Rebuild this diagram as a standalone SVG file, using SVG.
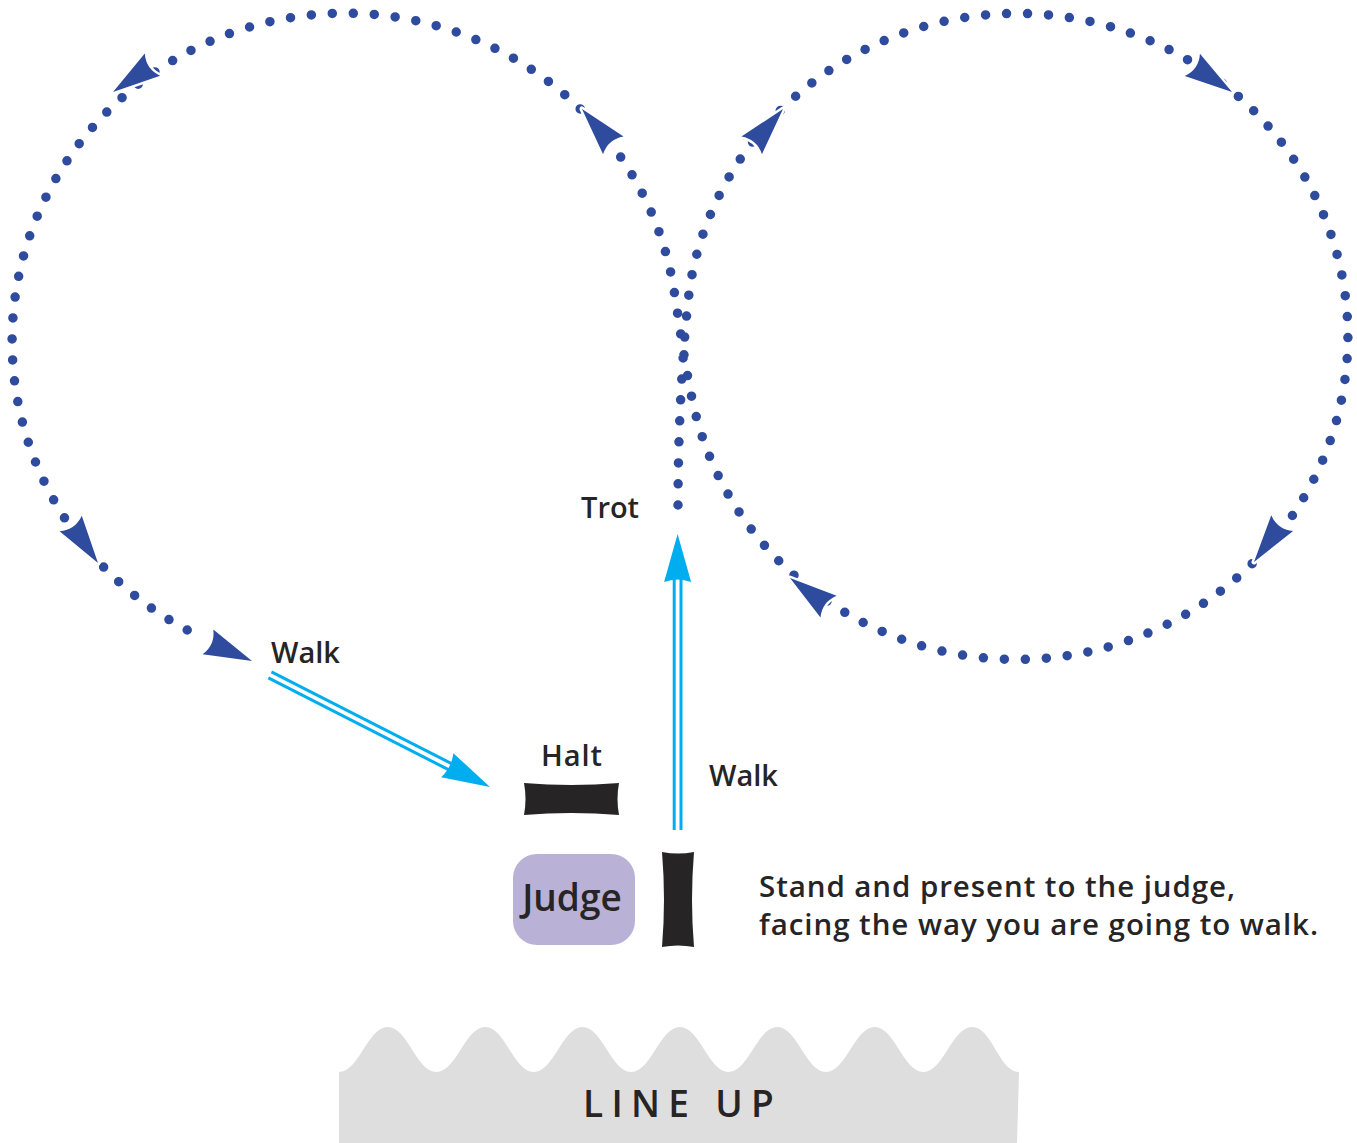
<svg xmlns="http://www.w3.org/2000/svg" width="1357" height="1143" viewBox="0 0 1357 1143">
<style>
  .lbl { font-family: "Open Sans", "DejaVu Sans", sans-serif; font-weight: 600; fill: #262425; }
  .dots { fill: none; stroke: #2E4B9D; stroke-width: 9.5; stroke-linecap: round; stroke-dasharray: 0 21; }
  .dart { fill: #2E4B9D; stroke: #ffffff; stroke-width: 5; paint-order: stroke; stroke-linejoin: round; }
  .blue { stroke: #00AEEF; stroke-width: 3; fill: none; }
  .bluehead { fill: #00AEEF; }
  .bar { fill: #262425; }
</style>
<defs>
  <path id="dart" d="M0,0 L-48,-13.5 Q-40,0 -48,13.5 Z"/>
  <path id="bhead" d="M0,0 L-48,-13.5 Q-43,0 -48,13.5 Z"/>
</defs>
<rect width="1357" height="1143" fill="#ffffff"/>

<g id="lineup">
  <path fill="#DEDEDE" d="M339,1143 L339,1072 C359,1072 367.7,1027 387.7,1027 S416.4,1072 436.4,1072 S465.1,1027 485.1,1027 S513.8,1072 533.8,1072 S562.5,1027 582.5,1027 S611.2,1072 631.2,1072 S659.9,1027 679.9,1027 S708.6,1072 728.6,1072 S757.3,1027 777.3,1027 S806,1072 826,1072 S854.7,1027 874.7,1027 S903.4,1072 923.4,1072 S952.1,1027 972.1,1027 S999,1072 1019,1072 L1017,1143 Z"/>
  <text class="lbl" x="583" y="1117" font-size="37" letter-spacing="8.3">LINE UP</text>
</g>

<g id="connectors">
  <path class="dots" d="M678,505 C678,400 686.5,304.6 691,280 A331,323 0 1 1 694.6,410 C685.4,371 680.3,329.5 674,290 A333,328 0 1 0 195,634"/>
  <use href="#dart" class="dart" transform="translate(113,92) rotate(145.3)"/>
  <use href="#dart" class="dart" transform="translate(582,109) rotate(229.3)"/>
  <use href="#dart" class="dart" transform="translate(783,109) rotate(-49.3)"/>
  <use href="#dart" class="dart" transform="translate(1232,92) rotate(34.3)"/>
  <use href="#dart" class="dart" transform="translate(1254,562) rotate(126)"/>
  <use href="#dart" class="dart" transform="translate(790,578) rotate(216.6)"/>
  <use href="#dart" class="dart" transform="translate(98,563) rotate(55.3)"/>
  <use href="#dart" class="dart" transform="translate(252,661) rotate(23.4)"/>

  <g id="walk-to-halt" transform="translate(490,787) rotate(27)">
    <line class="blue" x1="-247" y1="-3.4" x2="-40" y2="-3.4"/>
    <line class="blue" x1="-247" y1="3.4" x2="-40" y2="3.4"/>
    <use href="#bhead" class="bluehead"/>
  </g>
  <g id="walk-to-trot" transform="translate(677.6,534) rotate(-90)">
    <line class="blue" x1="-296" y1="-3.4" x2="-40" y2="-3.4"/>
    <line class="blue" x1="-296" y1="3.4" x2="-40" y2="3.4"/>
    <use href="#bhead" class="bluehead"/>
  </g>
</g>

<g id="halt">
  <path class="bar" d="M524,783 Q571,787 619,783 Q616,799 619,815 Q571,811 524,815 Q527,799 524,783 Z"/>
  <text class="lbl" x="541" y="766" font-size="29" textLength="61" lengthAdjust="spacing">Halt</text>
</g>

<g id="start-marker">
  <path class="bar" d="M662,852 Q678,855 694,852 Q690,900 694,947 Q678,944 662,947 Q666,900 662,852 Z"/>
</g>

<g id="judge">
  <rect x="513" y="854" width="122" height="91" rx="24" fill="#B9B1D6"/>
  <text class="lbl" x="572" y="911" font-size="37" text-anchor="middle">Judge</text>
</g>

<g id="labels">
  <text class="lbl" x="271" y="663" font-size="29">Walk</text>
  <text class="lbl" x="581" y="518" font-size="29">Trot</text>
  <text class="lbl" x="709" y="786" font-size="29">Walk</text>
  <text class="lbl" x="759" y="897" font-size="29.5" textLength="476" lengthAdjust="spacing">Stand and present to the judge,</text>
  <text class="lbl" x="759" y="935" font-size="29.5" textLength="559" lengthAdjust="spacing">facing the way you are going to walk.</text>
</g>
</svg>
